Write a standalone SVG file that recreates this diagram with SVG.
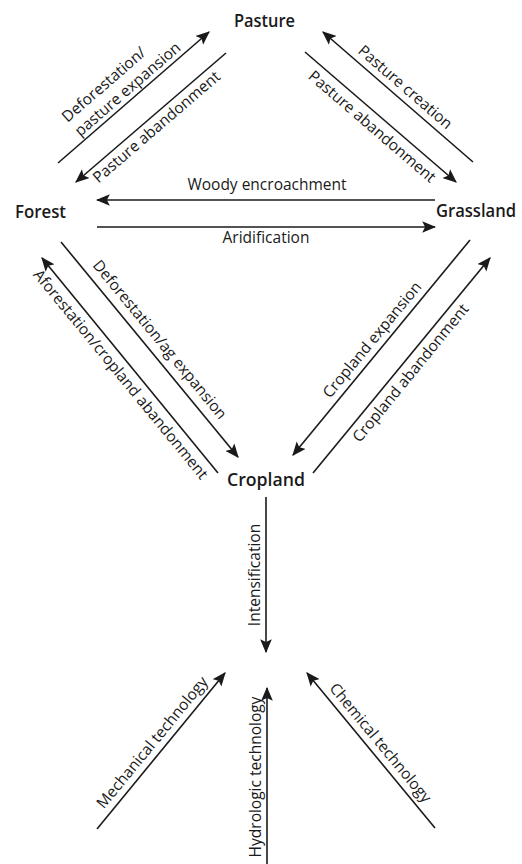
<svg xmlns="http://www.w3.org/2000/svg" width="522" height="864" viewBox="0 0 522 864">
<style>
.node{font-family:"Open Sans","Liberation Sans",sans-serif;font-weight:600;font-size:18px;fill:#1a1a1a}
.lbl{font-family:"Open Sans","Liberation Sans",sans-serif;font-size:15.5px;fill:#1a1a1a;text-anchor:middle}
.c line{stroke:#1a1a1a;stroke-width:1.6;fill:none}
.a{marker-end:url(#ah)}
</style>
<defs>
<marker id="ah" markerUnits="userSpaceOnUse" markerWidth="14" markerHeight="12" refX="11" refY="5" orient="auto" viewBox="0 0 12 10">
<path d="M0,0 L12,5 L0,10 L2.5,5 Z" fill="#1a1a1a"/>
</marker>
</defs>
<rect width="522" height="864" fill="#fff"/>
<g id="pasture"><text class="node" x="234" y="27" textLength="61" lengthAdjust="spacingAndGlyphs">Pasture</text></g>
<g id="forest"><text class="node" x="15" y="218" textLength="51" lengthAdjust="spacingAndGlyphs">Forest</text></g>
<g id="grassland"><text class="node" x="436" y="217" textLength="80" lengthAdjust="spacingAndGlyphs">Grassland</text></g>
<g id="cropland"><text class="node" x="227" y="486" textLength="78" lengthAdjust="spacingAndGlyphs">Cropland</text></g>
<g class="c" id="connectors">
<line class="a" x1="58" y1="163" x2="209" y2="32"/>
<line class="a" x1="226" y1="53" x2="76" y2="182"/>
<line class="a" x1="473" y1="162" x2="323" y2="32"/>
<line class="a" x1="305" y1="52" x2="456" y2="182"/>
<line class="a" x1="435" y1="200" x2="97" y2="200"/>
<line class="a" x1="97" y1="227" x2="435" y2="227"/>
<line class="a" x1="61" y1="242" x2="238" y2="457"/>
<line class="a" x1="218" y1="473" x2="42" y2="258"/>
<line class="a" x1="470" y1="240" x2="293" y2="455"/>
<line class="a" x1="313" y1="473" x2="490" y2="258"/>
<line class="a" x1="266" y1="497" x2="266" y2="652"/>
<line class="a" x1="97" y1="829" x2="225" y2="673"/>
<line class="a" x1="267" y1="864" x2="267" y2="688"/>
<line class="a" x1="435" y1="828" x2="307" y2="673"/>
</g>
<g id="labels">
<g transform="translate(133.5,97.5) rotate(-40.9)"><text class="lbl" x="1" y="-5">pasture expansion</text><text class="lbl" x="-14" y="-24">Deforestation/</text></g>
<g transform="translate(151,117.5) rotate(-40.7)"><text class="lbl" x="-2" y="16">Pasture abandonment</text></g>
<g transform="translate(398,97) rotate(40.9)"><text class="lbl" x="-1" y="-7">Pasture creation</text></g>
<g transform="translate(380.5,117) rotate(40.7)"><text class="lbl" x="0" y="18">Pasture abandonment</text></g>
<text class="lbl" x="267" y="190">Woody encroachment</text>
<text class="lbl" x="266" y="243">Aridification</text>
<g transform="translate(149.5,349.5) rotate(50.5)"><text class="lbl" x="-1" y="-9">Deforestation/ag expansion</text></g>
<g transform="translate(130,365.5) rotate(50.7)"><text class="lbl" x="1" y="18">Aforestation/cropland abandonment</text></g>
<g transform="translate(381.5,347.5) rotate(-50.5)"><text class="lbl" x="0" y="-7">Cropland expansion</text></g>
<g transform="translate(401.5,365.5) rotate(-50.7)"><text class="lbl" x="0" y="17">Cropland abandonment</text></g>
<g transform="translate(266,575) rotate(-90)"><text class="lbl" x="0" y="-6">Intensification</text></g>
<g transform="translate(161,751) rotate(-50.6)"><text class="lbl" x="1" y="-7">Mechanical technology</text></g>
<g transform="translate(267,777) rotate(-90)"><text class="lbl" x="0" y="-6">Hydrologic technology</text></g>
<g transform="translate(371,750.5) rotate(50.4)"><text class="lbl" x="0" y="-7">Chemical technology</text></g>
</g>
</svg>
